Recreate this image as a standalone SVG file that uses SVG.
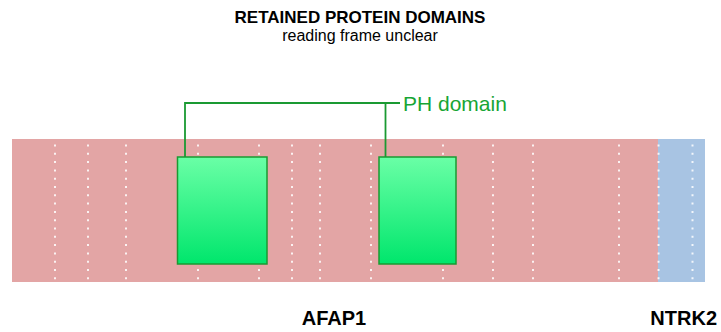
<svg xmlns="http://www.w3.org/2000/svg" width="721" height="332" viewBox="0 0 721 332">
<style>
.t{font-family:"Liberation Sans",Arial,sans-serif;fill:#000}
.b{font-weight:bold}
.dot{stroke:#ffffff;stroke-opacity:0.85;stroke-width:2;stroke-dasharray:2 6.3}
.dom{fill:url(#g);stroke:#1a9a32;stroke-width:1.5}
.con{fill:none;stroke:#1a9a32;stroke-width:1.8}
</style>
<defs>
<linearGradient id="g" x1="0" y1="0" x2="0" y2="1">
<stop offset="0" stop-color="#6affa6"/>
<stop offset="1" stop-color="#00e66c"/>
</linearGradient>
</defs>
<rect width="721" height="332" fill="#fff"/>
<g id="title">
<text class="t b" x="360" y="23" font-size="17" text-anchor="middle">RETAINED PROTEIN DOMAINS</text>
<text class="t" x="360" y="41" font-size="16" text-anchor="middle">reading frame unclear</text>
</g>
<g id="AFAP1">
<rect x="12" y="139" width="646" height="143" fill="#e3a5a5"/>
</g>
<g id="NTRK2">
<rect x="658" y="139" width="47" height="143" fill="#a8c4e3"/>
</g>
<g id="exons">
<line class="dot" x1="55" y1="144.5" x2="55" y2="282"/>
<line class="dot" x1="88" y1="144.5" x2="88" y2="282"/>
<line class="dot" x1="126" y1="144.5" x2="126" y2="282"/>
<line class="dot" x1="198" y1="144.5" x2="198" y2="282"/>
<line class="dot" x1="259" y1="144.5" x2="259" y2="282"/>
<line class="dot" x1="292" y1="144.5" x2="292" y2="282"/>
<line class="dot" x1="320" y1="144.5" x2="320" y2="282"/>
<line class="dot" x1="371" y1="144.5" x2="371" y2="282"/>
<line class="dot" x1="443" y1="144.5" x2="443" y2="282"/>
<line class="dot" x1="493" y1="144.5" x2="493" y2="282"/>
<line class="dot" x1="533" y1="144.5" x2="533" y2="282"/>
<line class="dot" x1="619" y1="144.5" x2="619" y2="282"/>
<line class="dot" x1="658.5" y1="144.5" x2="658.5" y2="282"/>
<line class="dot" x1="692.5" y1="144.5" x2="692.5" y2="282"/>
</g>
<g id="connectors">
<polyline class="con" points="185,157 185,103 400,103"/>
<line class="con" x1="385.5" y1="103" x2="385.5" y2="157"/>
</g>
<g id="domain1">
<rect class="dom" x="177.5" y="157" width="89.5" height="107"/>
</g>
<g id="domain2">
<rect class="dom" x="379" y="157" width="77" height="107"/>
</g>
<g id="label-PH">
<text class="t" x="403" y="110.5" font-size="21" style="fill:#17a534">PH domain</text>
</g>
<g id="labels">
<text class="t b" x="334" y="325" font-size="20" text-anchor="middle">AFAP1</text>
<text class="t b" x="717" y="325" font-size="20" text-anchor="end">NTRK2</text>
</g>
</svg>
